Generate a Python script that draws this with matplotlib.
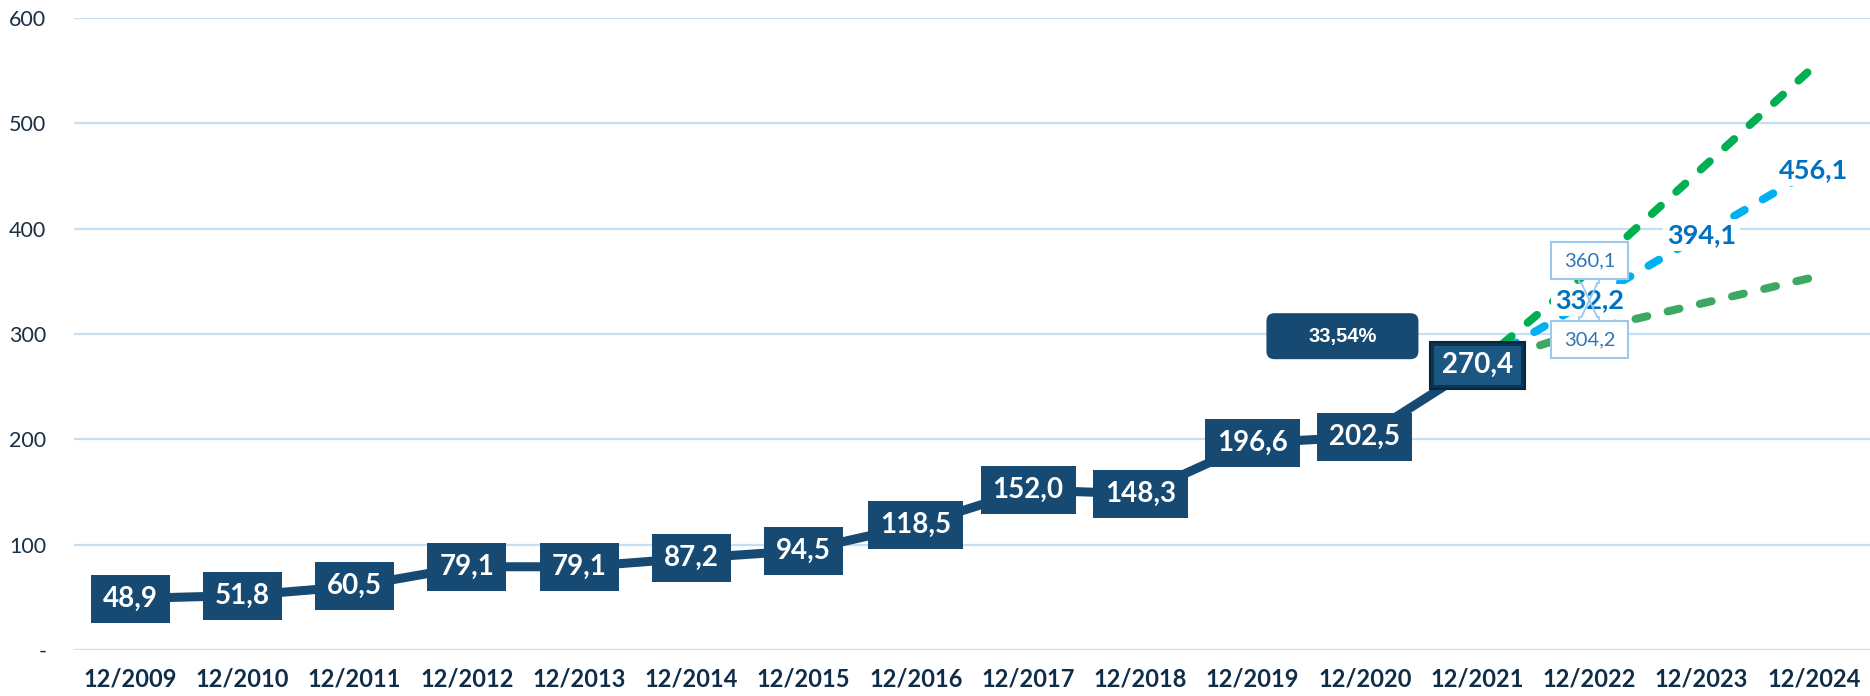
import matplotlib
matplotlib.use('Agg')
import matplotlib.pyplot as plt
from matplotlib.patches import FancyBboxPatch
from matplotlib.transforms import IdentityTransform

# dados
anos = ['12/2009', '12/2010', '12/2011', '12/2012', '12/2013', '12/2014', '12/2015', '12/2016',
        '12/2017', '12/2018', '12/2019', '12/2020', '12/2021', '12/2022', '12/2023', '12/2024']
realizado = [48.9, 51.8, 60.5, 79.1, 79.1, 87.2, 94.5, 118.5, 152.0, 148.3, 196.6, 202.5, 270.4]
proj_alta = [270.4, 360.1, 457.0, 554.0]
proj_media = [270.4, 332.2, 394.1, 456.1]
proj_baixa = [270.4, 304.2, 329.0, 354.0]
crescimento = '33,54%'

azul_escuro = '#164A72'
verde_claro = '#00B050'
azul_claro = '#00B0F0'
verde_escuro = '#3CA864'
borda_clara = '#9DC8EE'

def fmt(v):
    return f'{v:.1f}'.replace('.', ',')

fig = plt.figure(figsize=(18.7, 6.96), dpi=100)
ax = fig.add_axes([0.0396, 0.066, 0.9604, 0.908])
ax.set_xlim(-0.5, len(anos) - 0.5)
ax.set_ylim(0, 600)

# desenha uma caixa em pixels centrada num ponto de dados
def caixa_px(xd, yd, w, h, dy=0, **kw):
    cx, cy = ax.transData.transform((xd, yd))
    p = FancyBboxPatch((cx - w / 2, cy + dy - h / 2), w, h, transform=IdentityTransform(), **kw)
    ax.add_artist(p)
    return p

def linha_px(xs, ys):
    ax.add_artist(plt.Line2D(xs, ys, color=borda_clara, lw=1.3, transform=IdentityTransform(), zorder=6))

x_real = list(range(len(realizado)))
x_proj = list(range(len(realizado) - 1, len(anos)))

# grade
for v in range(0, 601, 100):
    ax.axhline(v, color='#C5DFF4', lw=1.6, zorder=0)

# projecoes
estilo = dict(lw=5.8, dash_capstyle='round', dashes=(1.5, 2.6), zorder=2)
ax.plot(x_proj, proj_alta, color=verde_claro, **estilo)
ax.plot(x_proj, proj_media, color=azul_claro, **estilo)
ax.plot(x_proj, proj_baixa, color=verde_escuro, **estilo)

# serie realizada
ax.plot(x_real, realizado, color=azul_escuro, lw=6.5, solid_joinstyle='miter', zorder=3)

renderer = fig.canvas.get_renderer()
for i, v in enumerate(realizado):
    t = ax.text(i, v, fmt(v), ha='center', va='center', color='white', fontsize=20,
                fontweight='bold', family='Lato', zorder=6)
    w = t.get_window_extent(renderer).width + 24
    if i == len(realizado) - 1:
        caixa_px(i, v, w, 47, boxstyle='square,pad=0', fc='#0E3350', ec='#08263D', lw=1.5, zorder=5)
        caixa_px(i, v, w - 8, 39, boxstyle='square,pad=0', fc='#1C5784', ec='none', zorder=5)
    else:
        caixa_px(i, v, w, 48, boxstyle='square,pad=0', fc=azul_escuro, ec='none', zorder=5)

# rotulos da projecao media
for i, v in zip(x_proj[1:], proj_media[1:]):
    ax.text(i, v, fmt(v), ha='center', va='center', color='#0070C0', fontsize=19.5,
            fontweight='bold', family='Lato', zorder=4,
            bbox=dict(boxstyle='square,pad=0.15', fc='white', ec='none'))

# rotulos alta / baixa em 2022 com linhas de chamada
i22 = x_proj[1]
cx, cy = ax.transData.transform((i22, proj_media[1]))
for sx in (-1, 1):
    linha_px([cx - 8 * sx, cx + 8 * sx], [cy + 17, cy - 17])
    for sy in (-1, 1):
        linha_px([cx + 10 * sx, cx + 10 * sx, cx + 8 * sx], [cy + 21 * sy, cy + 17 * sy, cy + 17 * sy])
for v, dy in ((proj_alta[1], 10), (proj_baixa[1], -10)):
    caixa_px(i22, v, 77, 37, dy=dy, boxstyle='square,pad=0', fc='white', ec=borda_clara, lw=1.5, zorder=7)
    ax.annotate(fmt(v), (i22, v), xytext=(0, dy * 0.72), textcoords='offset points', ha='center',
                va='center', color='#2E75B6', fontsize=14.5, family='Lato', zorder=8)

# caixa de crescimento
caixa_px(10.8, 298, 152, 46, boxstyle='round,pad=0,rounding_size=8', fc=azul_escuro, ec='none', zorder=4)
ax.text(10.8, 298, crescimento, ha='center', va='center', color='white', fontsize=14.5,
        fontweight='bold', family='Liberation Sans', zorder=5)

ax.set_xticks(range(len(anos)))
ax.set_xticklabels(anos, fontsize=17, fontweight='bold', family='Lato', color='#102D48')
ax.set_yticks(range(0, 601, 100))
ax.set_yticklabels(['-'] + [str(v) for v in range(100, 601, 100)], fontsize=15.5,
                   family='Lato', color='#1A2E44')
ax.tick_params(axis='both', length=0)
ax.tick_params(axis='x', pad=12.5)
ax.tick_params(axis='y', pad=20)
for s in ax.spines.values():
    s.set_visible(False)

fig.savefig('out.png', dpi=100)
